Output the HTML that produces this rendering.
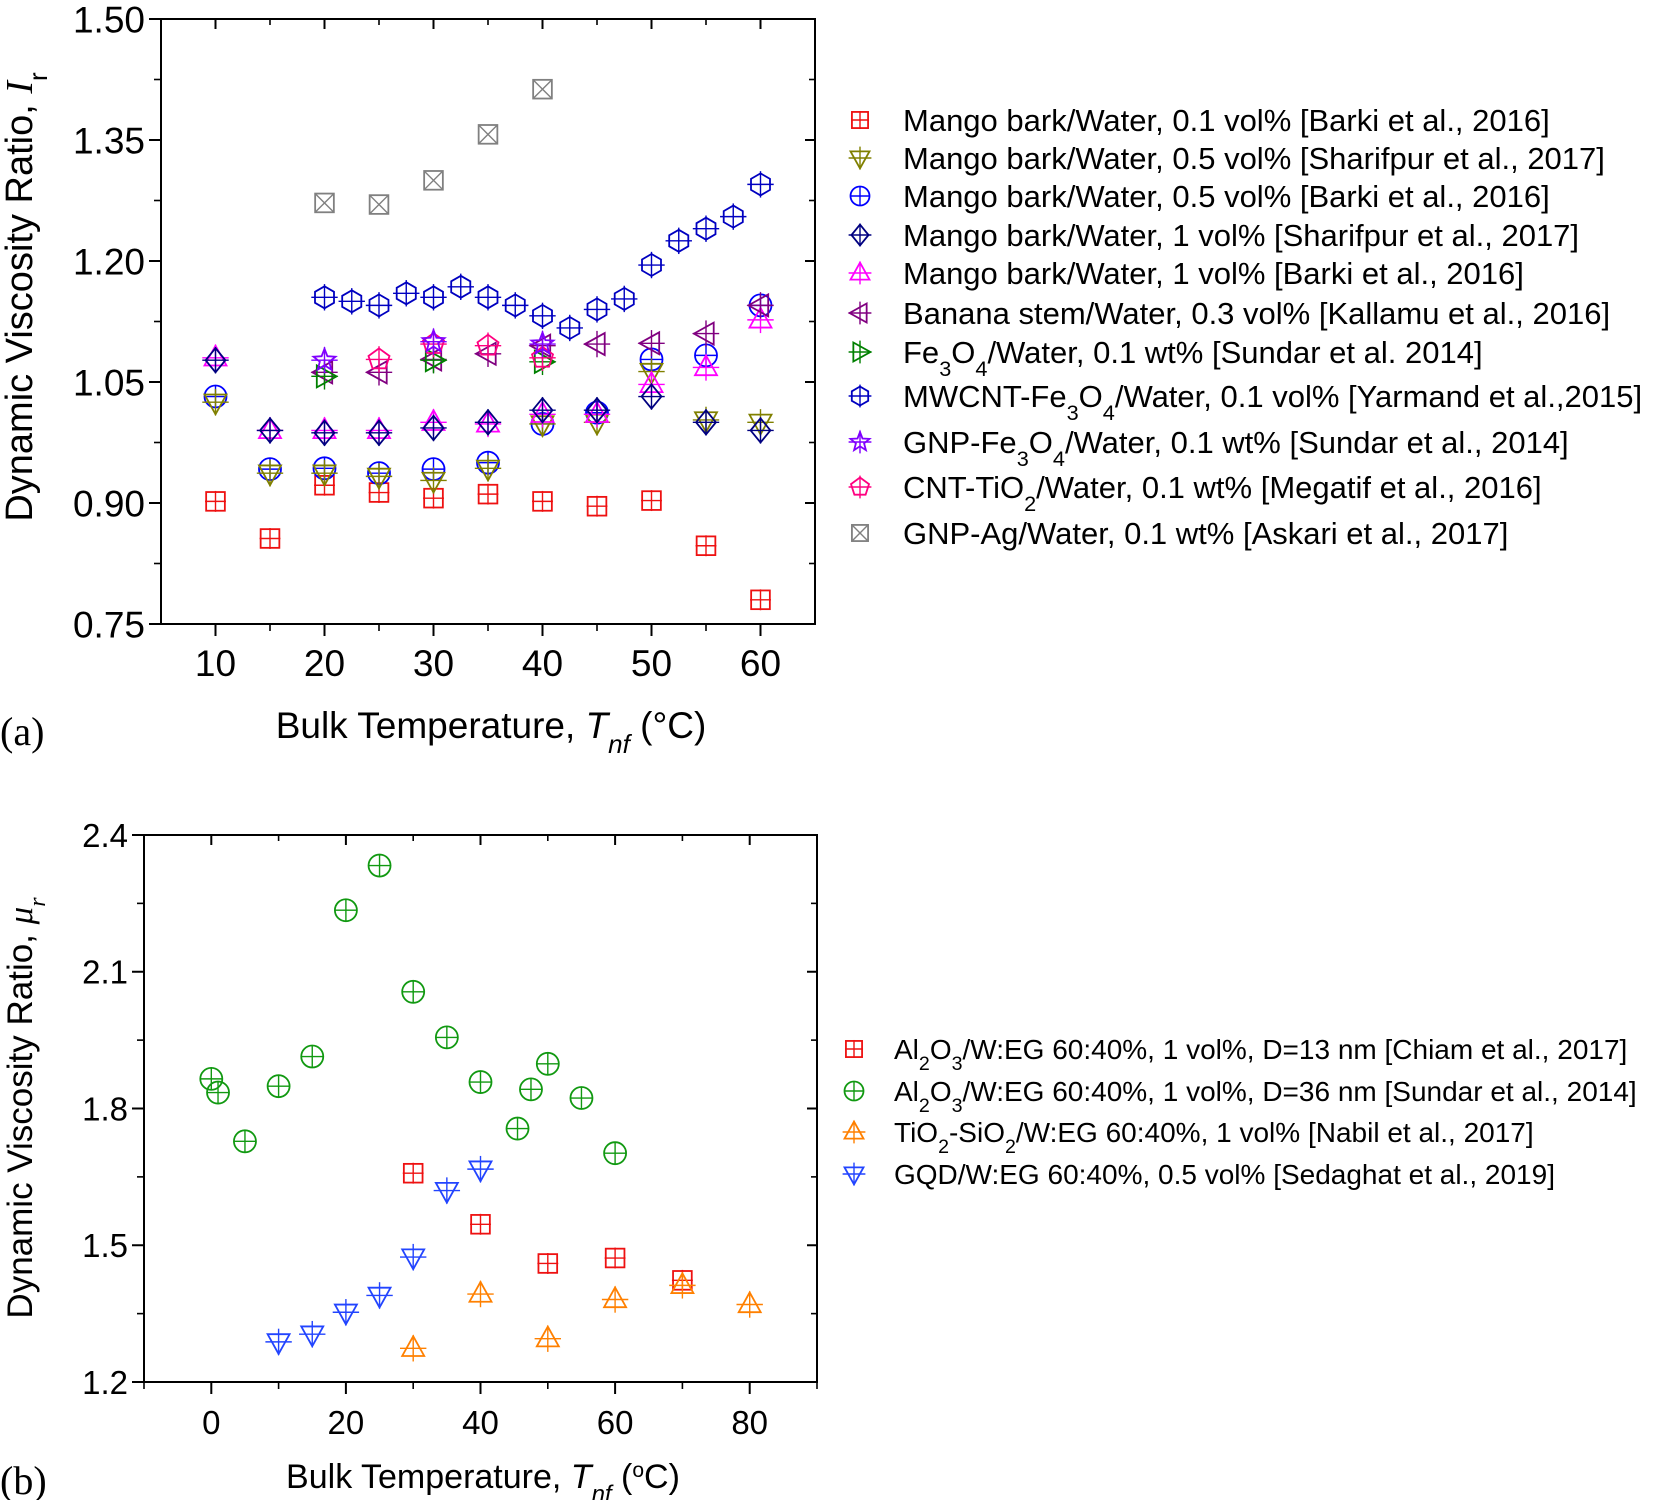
<!DOCTYPE html>
<html><head><meta charset="utf-8"><style>
html,body{margin:0;padding:0;background:#fff;}
svg{display:block;font-family:"Liberation Sans",sans-serif;}
</style></head><body>
<svg id="fig" width="1657" height="1500" viewBox="0 0 1657 1500" xmlns="http://www.w3.org/2000/svg">
<g id="pa"></g>
<g id="pb"></g>
</svg>
<script>
// ---------- Panel (a) data ----------
const aTicksX = [10,20,30,40,50,60];
const aTicksY = [0.75,0.90,1.05,1.20,1.35,1.50];
const aTickLabelsY = ["0.75","0.90","1.05","1.20","1.35","1.50"];
const aX11 = [10,15,20,25,30,35,40,45,50,55,60];
const aRedY = [0.902,0.856,0.922,0.913,0.906,0.911,0.902,0.896,0.903,0.847,0.780];
const aOliveY = [1.025,0.937,0.937,0.933,0.928,0.943,0.998,1.000,1.063,1.003,1.000];
const aBlueY = [1.032,0.942,0.943,0.937,0.942,0.950,0.998,1.012,1.078,1.083,1.145];
const aNavyY = [1.077,0.990,0.987,0.987,0.993,1.000,1.015,1.015,1.032,1.000,0.990];
const aMagY = [1.080,0.990,0.990,0.990,1.000,0.998,1.010,1.010,1.047,1.068,1.127];
const aBananaX = [20,25,30,35,40,45,50,55,60];
const aBananaY = [1.062,1.062,1.078,1.085,1.095,1.097,1.098,1.110,1.145];
const aFeX = [20,30,40];
const aFeY = [1.057,1.077,1.075];
const aMwX = [20,22.5,25,27.5,30,32.5,35,37.5,40,42.5,45,47.5,50,52.5,55,57.5,60];
const aMwY = [1.155,1.150,1.145,1.160,1.155,1.168,1.155,1.145,1.132,1.117,1.140,1.153,1.195,1.225,1.240,1.255,1.295];
const aGnpFeX = [20,30,40];
const aGnpFeY = [1.077,1.100,1.097];
const aCntX = [25,30,35,40];
const aCntY = [1.078,1.097,1.095,1.080];
const aAgX = [20,25,30,35,40];
const aAgY = [1.272,1.270,1.300,1.357,1.413];

// ---------- Panel (b) data ----------
const bTicksX = [0,20,40,60,80];
const bTicksY = [1.2,1.5,1.8,2.1,2.4];
const bTickLabelsY = ["1.2","1.5","1.8","2.1","2.4"];
const bGreenX = [0,1,5,10,15,20,25,30,35,40,45.5,47.5,50,55,60];
const bGreenY = [1.865,1.835,1.728,1.849,1.914,2.235,2.333,2.056,1.956,1.858,1.756,1.842,1.898,1.823,1.702];
const bRedX = [30,40,50,60,70];
const bRedY = [1.658,1.546,1.460,1.472,1.423];
const bOrangeX = [30,40,50,60,70,80];
const bOrangeY = [1.274,1.393,1.295,1.381,1.412,1.370];
const bBlueX = [10,15,20,25,30,35,40];
const bBlueY = [1.288,1.305,1.353,1.390,1.474,1.620,1.667];

const NS = "http://www.w3.org/2000/svg";
function mk(tag, attrs, parent){const e=document.createElementNS(NS,tag);for(const k in attrs)e.setAttribute(k,attrs[k]);if(parent)parent.appendChild(e);return e;}
function scale(d0,d1,r0,r1){return v=>r0+(v-d0)/(d1-d0)*(r1-r0);}

function marker(g, shape, cx, cy, color, r){
  const sw=1.8; let s;
  if(shape==="square"){s=mk("rect",{x:cx-r*0.85,y:cy-r*0.85,width:r*1.7,height:r*1.7,fill:"none",stroke:color,"stroke-width":sw},g);}
  else if(shape==="circle"){s=mk("circle",{cx:cx,cy:cy,r:r,fill:"none",stroke:color,"stroke-width":sw},g);}
  else if(shape==="diamond"){s=mk("polygon",{points:`${cx},${cy-r*1.1} ${cx+r*0.9},${cy} ${cx},${cy+r*1.1} ${cx-r*0.9},${cy}`,fill:"none",stroke:color,"stroke-width":sw},g);}
  else if(shape==="up"){s=mk("polygon",{points:`${cx},${cy-r*1.1} ${cx+r},${cy+r*0.7} ${cx-r},${cy+r*0.7}`,fill:"none",stroke:color,"stroke-width":sw},g);}
  else if(shape==="down"){s=mk("polygon",{points:`${cx},${cy+r*1.1} ${cx+r},${cy-r*0.7} ${cx-r},${cy-r*0.7}`,fill:"none",stroke:color,"stroke-width":sw},g);}
  else if(shape==="left"){s=mk("polygon",{points:`${cx-r*1.1},${cy} ${cx+r*0.7},${cy-r} ${cx+r*0.7},${cy+r}`,fill:"none",stroke:color,"stroke-width":sw},g);}
  else if(shape==="right"){s=mk("polygon",{points:`${cx+r*1.1},${cy} ${cx-r*0.7},${cy-r} ${cx-r*0.7},${cy+r}`,fill:"none",stroke:color,"stroke-width":sw},g);}
  else if(shape==="hex"){let p=[];for(let i=0;i<6;i++){const a=Math.PI/6+i*Math.PI/3;p.push((cx+r*Math.cos(a)).toFixed(1)+","+(cy+r*Math.sin(a)).toFixed(1));}s=mk("polygon",{points:p.join(" "),fill:"none",stroke:color,"stroke-width":sw},g);}
  else if(shape==="pent"){let p=[];for(let i=0;i<5;i++){const a=-Math.PI/2+i*2*Math.PI/5;p.push((cx+r*Math.cos(a)).toFixed(1)+","+(cy+r*Math.sin(a)).toFixed(1));}s=mk("polygon",{points:p.join(" "),fill:"none",stroke:color,"stroke-width":sw},g);}
  else if(shape==="star"){let p=[];for(let i=0;i<10;i++){const a=-Math.PI/2+i*Math.PI/5;const rr=i%2?r*0.45:r*1.05;p.push((cx+rr*Math.cos(a)).toFixed(1)+","+(cy+rr*Math.sin(a)).toFixed(1));}s=mk("polygon",{points:p.join(" "),fill:"none",stroke:color,"stroke-width":sw},g);}
  else if(shape==="xsq"){s=mk("rect",{x:cx-r*0.85,y:cy-r*0.85,width:r*1.7,height:r*1.7,fill:"none",stroke:color,"stroke-width":sw},g);
    mk("line",{x1:cx-r*0.85,y1:cy-r*0.85,x2:cx+r*0.85,y2:cy+r*0.85,stroke:color,"stroke-width":1.4},g);
    mk("line",{x1:cx+r*0.85,y1:cy-r*0.85,x2:cx-r*0.85,y2:cy+r*0.85,stroke:color,"stroke-width":1.4},g);return;}
  const ext = (shape==="square"||shape==="circle")?r*0.95:r*1.2;
  mk("line",{x1:cx-ext,y1:cy,x2:cx+ext,y2:cy,stroke:color,"stroke-width":1.4},g);
  mk("line",{x1:cx,y1:cy-ext,x2:cx,y2:cy+ext,stroke:color,"stroke-width":1.4},g);
}

function axes(g, L,R,T,B, sx, sy, ticksX, ticksY, labY, minorX, minorY, fs){
  mk("rect",{x:L,y:T,width:R-L,height:B-T,fill:"none",stroke:"#000","stroke-width":2},g);
  ticksX.forEach(v=>{const x=sx(v);
    mk("line",{x1:x,y1:B,x2:x,y2:B+12,stroke:"#000","stroke-width":2},g);
    mk("line",{x1:x,y1:T,x2:x,y2:T+10,stroke:"#000","stroke-width":2},g);
    const t=mk("text",{x:x,y:B+52,"text-anchor":"middle","font-size":fs},g);t.textContent=String(v);
    
    });
  minorX.forEach(v=>{const x=sx(v);
    mk("line",{x1:x,y1:B,x2:x,y2:B+7,stroke:"#000","stroke-width":1.6},g);
    mk("line",{x1:x,y1:T,x2:x,y2:T+6,stroke:"#000","stroke-width":1.6},g);});
  ticksY.forEach((v,i)=>{const y=sy(v);
    mk("line",{x1:L-12,y1:y,x2:L,y2:y,stroke:"#000","stroke-width":2},g);
    mk("line",{x1:R-10,y1:y,x2:R,y2:y,stroke:"#000","stroke-width":2},g);
    const t=mk("text",{x:L-16,y:y+fs*0.36,"text-anchor":"end","font-size":fs},g);t.textContent=labY[i];
    
    });
  minorY.forEach(v=>{const y=sy(v);
    mk("line",{x1:L-7,y1:y,x2:L,y2:y,stroke:"#000","stroke-width":1.6},g);
    mk("line",{x1:R-6,y1:y,x2:R,y2:y,stroke:"#000","stroke-width":1.6},g);});
}

function series(g, name, shape, color, xs, ys, sx, sy, r){
  const sg=mk("g",{},g);
  
  
  xs.forEach((x,i)=>marker(sg,shape,sx(x),sy(ys[i]),color,r));
}

function legendRow(g, name, shape, color, mx, tx, y, parts, fs){
  const lg=mk("g",{},g);
  
  
  marker(lg,shape,mx,y,color,9.5);
  const t=mk("text",{x:tx,y:y+fs*0.36,"font-size":fs},lg);
  parts.forEach(p=>{const ts=mk("tspan",{},t);
    if(typeof p==="string"){ts.textContent=p;}
    else {ts.textContent=p[0];ts.setAttribute("baseline-shift","sub");ts.setAttribute("font-size",fs*0.7);}
  });
}

// ----- Panel a -----
(function(){
  const g=document.getElementById("pa");
  const L=161,R=815,T=19,B=624;
  const sx=scale(5,65,L,R), sy=scale(0.75,1.50,B,T);
  axes(g,L,R,T,B,sx,sy,aTicksX,aTicksY,aTickLabelsY,[15,25,35,45,55],[0.825,0.975,1.125,1.275,1.425],37);
  const r=11;
  series(g,"series-gnp-ag","xsq","#808080",aAgX,aAgY,sx,sy,r);
  series(g,"series-mwcnt-fe3o4","hex","#0000c0",aMwX,aMwY,sx,sy,r);
  series(g,"series-mango-0.1-barki","square","#ee1111",aX11,aRedY,sx,sy,r);
  series(g,"series-mango-0.5-barki","circle","#0000ff",aX11,aBlueY,sx,sy,r);
  series(g,"series-mango-0.5-sharifpur","down","#808000",aX11,aOliveY,sx,sy,r);
  series(g,"series-mango-1-barki","up","#ff00ff",aX11,aMagY,sx,sy,r);
  series(g,"series-mango-1-sharifpur","diamond","#000080",aX11,aNavyY,sx,sy,r);
  series(g,"series-banana-stem","left","#800080",aBananaX,aBananaY,sx,sy,r);
  series(g,"series-fe3o4","right","#008000",aFeX,aFeY,sx,sy,r);
  series(g,"series-cnt-tio2","pent","#ff0080",aCntX,aCntY,sx,sy,r);
  series(g,"series-gnp-fe3o4","star","#8000ff",aGnpFeX,aGnpFeY,sx,sy,r);
  const yt=mk("text",{x:0,y:0,"font-size":38,"text-anchor":"middle",transform:"translate(32,297) rotate(-90)"},g);
  
  
  yt.innerHTML='Dynamic Viscosity Ratio,  <tspan font-family="Liberation Serif" font-style="italic">I</tspan><tspan font-size="26" baseline-shift="sub">r</tspan>';
  const xt=mk("text",{x:491,y:738,"font-size":37,"text-anchor":"middle"},g);
  
  
  xt.innerHTML='Bulk Temperature, <tspan font-style="italic">T</tspan><tspan font-style="italic" font-size="26" baseline-shift="sub">nf</tspan> (°C)';
  const pl=mk("text",{x:0,y:745,"font-size":40,"font-family":"Liberation Serif"},g);
  
  
  pl.textContent="(a)";
  const lg=mk("g",{},g);
  
  
  const fs=31, mx=860, tx=903;
  legendRow(lg,"legend-entry-mango-0.1-barki","square","#ee1111",mx,tx,120,["Mango bark/Water, 0.1 vol% [Barki et al., 2016]"],fs);
  legendRow(lg,"legend-entry-mango-0.5-sharifpur","down","#808000",mx,tx,158,["Mango bark/Water, 0.5 vol% [Sharifpur et al., 2017]"],fs);
  legendRow(lg,"legend-entry-mango-0.5-barki","circle","#0000ff",mx,tx,196,["Mango bark/Water, 0.5 vol% [Barki et al., 2016]"],fs);
  legendRow(lg,"legend-entry-mango-1-sharifpur","diamond","#000080",mx,tx,235,["Mango bark/Water, 1 vol% [Sharifpur et al., 2017]"],fs);
  legendRow(lg,"legend-entry-mango-1-barki","up","#ff00ff",mx,tx,273,["Mango bark/Water, 1 vol% [Barki et al., 2016]"],fs);
  legendRow(lg,"legend-entry-banana-stem","left","#800080",mx,tx,313,["Banana stem/Water, 0.3 vol% [Kallamu et al., 2016]"],fs);
  legendRow(lg,"legend-entry-fe3o4","right","#008000",mx,tx,352,["Fe",["3"],"O",["4"],"/Water, 0.1 wt% [Sundar et al. 2014]"],fs);
  legendRow(lg,"legend-entry-mwcnt-fe3o4","hex","#0000c0",mx,tx,396,["MWCNT-Fe",["3"],"O",["4"],"/Water, 0.1 vol% [Yarmand et al.,2015]"],fs);
  legendRow(lg,"legend-entry-gnp-fe3o4","star","#8000ff",mx,tx,442,["GNP-Fe",["3"],"O",["4"],"/Water, 0.1 wt% [Sundar et al., 2014]"],fs);
  legendRow(lg,"legend-entry-cnt-tio2","pent","#ff0080",mx,tx,487,["CNT-TiO",["2"],"/Water, 0.1 wt% [Megatif et al., 2016]"],fs);
  legendRow(lg,"legend-entry-gnp-ag","xsq","#808080",mx,tx,533,["GNP-Ag/Water, 0.1 wt% [Askari et al., 2017]"],fs);
})();

// ----- Panel b -----
(function(){
  const g=document.getElementById("pb");
  const L=144,R=817,T=835,B=1382;
  const sx=scale(-10,90,L,R), sy=scale(1.2,2.4,B,T);
  axes(g,L,R,T,B,sx,sy,bTicksX,bTicksY,bTickLabelsY,[-10,10,30,50,70,90],[1.35,1.65,1.95,2.25],33);
  const r=11;
  series(g,"series-al2o3-36nm","circle","#119911",bGreenX,bGreenY,sx,sy,r);
  series(g,"series-al2o3-13nm","square","#ee1111",bRedX,bRedY,sx,sy,r);
  series(g,"series-tio2-sio2","up","#ff8000",bOrangeX,bOrangeY,sx,sy,r);
  series(g,"series-gqd","down","#2244ff",bBlueX,bBlueY,sx,sy,r);
  const yt=mk("text",{x:0,y:0,"font-size":35,"text-anchor":"middle",transform:"translate(32,1108) rotate(-90)"},g);
  
  
  yt.innerHTML='Dynamic Viscosity Ratio,  <tspan font-family="Liberation Serif" font-style="italic">μ</tspan><tspan font-family="Liberation Serif" font-style="italic" font-size="24" baseline-shift="sub">r</tspan>';
  const xt=mk("text",{x:483,y:1488,"font-size":34,"text-anchor":"middle"},g);
  
  
  xt.innerHTML='Bulk Temperature, <tspan font-style="italic">T</tspan><tspan font-style="italic" font-size="24" baseline-shift="sub">nf</tspan> (<tspan font-size="21" baseline-shift="super">o</tspan>C)';
  const pl=mk("text",{x:0,y:1494,"font-size":40,"font-family":"Liberation Serif"},g);
  
  
  pl.textContent="(b)";
  const lg=mk("g",{},g);
  
  
  const fs=28, mx=854, tx=894;
  legendRow(lg,"legend-entry-al2o3-13nm","square","#ee1111",mx,tx,1049,["Al",["2"],"O",["3"],"/W:EG 60:40%, 1 vol%, D=13 nm [Chiam et al., 2017]"],fs);
  legendRow(lg,"legend-entry-al2o3-36nm","circle","#119911",mx,tx,1091,["Al",["2"],"O",["3"],"/W:EG 60:40%, 1 vol%, D=36 nm [Sundar et al., 2014]"],fs);
  legendRow(lg,"legend-entry-tio2-sio2","up","#ff8000",mx,tx,1132,["TiO",["2"],"-SiO",["2"],"/W:EG 60:40%, 1 vol% [Nabil et al., 2017]"],fs);
  legendRow(lg,"legend-entry-gqd","down","#2244ff",mx,tx,1174,["GQD/W:EG 60:40%, 0.5 vol% [Sedaghat et al., 2019]"],fs);
})();
</script>
</body></html>
